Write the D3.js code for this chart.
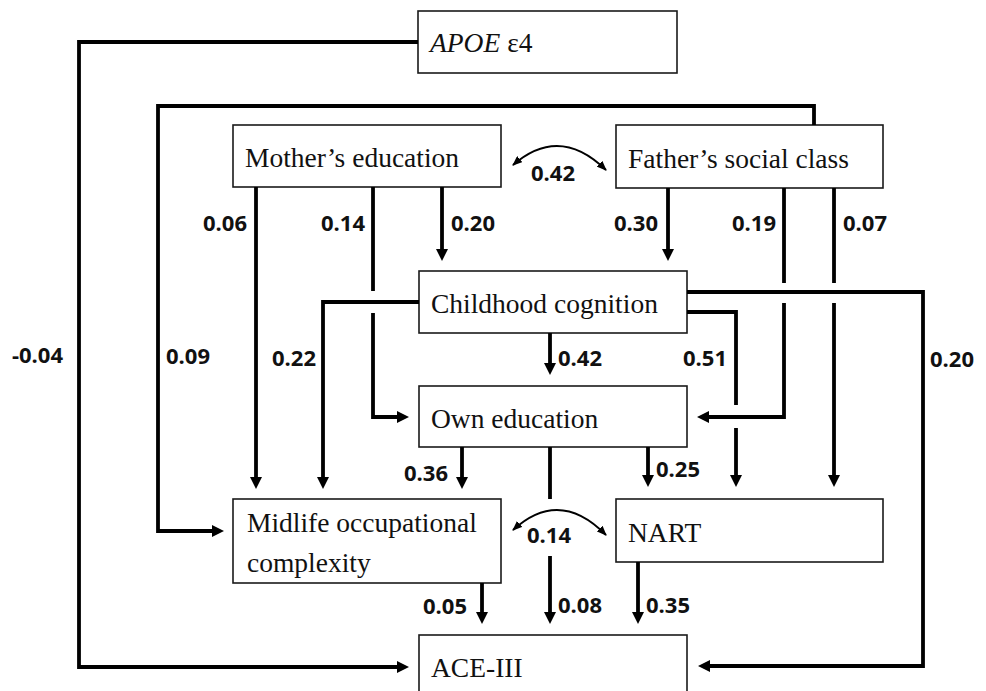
<!DOCTYPE html>
<html>
<head>
<meta charset="utf-8">
<script src="https://cdn.jsdelivr.net/npm/d3@7"></script>
<style>
  body { margin: 0; background: #fff; }
  svg { display: block; }
  .box-text { font-family: 'Liberation Serif', 'Times New Roman', serif; font-size: 27.5px; fill: #111; }
  .coef { font-family: 'Open Sans', sans-serif; font-weight: 700; font-size: 22px; fill: #111; }
</style>
</head>
<body>
<div id="chart"></div>
<script>
// variables in the path model
const nodeIds = ['apoe', 'mother', 'father', 'child', 'own', 'midlife', 'nart', 'ace']
const nodeLabels = [
  ['APOE', ' ε4'],
  ['Mother’s education'],
  ['Father’s social class'],
  ['Childhood cognition'],
  ['Own education'],
  ['Midlife occupational', 'complexity'],
  ['NART'],
  ['ACE-III']
]

// directed paths: source, target, standardised coefficient
const pathFrom = ['apoe', 'father', 'mother', 'mother', 'mother', 'father', 'father', 'father', 'child', 'child', 'child', 'child', 'own', 'own', 'own', 'midlife', 'nart']
const pathTo = ['ace', 'midlife', 'midlife', 'own', 'child', 'child', 'own', 'nart', 'midlife', 'own', 'nart', 'ace', 'midlife', 'nart', 'ace', 'ace', 'ace']
const pathCoef = ['-0.04', '0.09', '0.06', '0.14', '0.20', '0.30', '0.19', '0.07', '0.22', '0.42', '0.51', '0.20', '0.36', '0.25', '0.08', '0.05', '0.35']

// correlations (double headed)
const corrA = ['mother', 'midlife']
const corrB = ['father', 'nart']
const corrCoef = ['0.42', '0.14']

// ---- layout ----
let width = 986
let height = 691
let boxes = {
  apoe: [418, 11, 259, 62],
  mother: [233, 125, 268, 62],
  father: [616, 125, 267, 63],
  child: [419, 271, 268, 62],
  own: [419, 386, 268, 61],
  midlife: [233, 499, 268, 84],
  nart: [616, 499, 267, 63],
  ace: [419, 635, 268, 70]
}
// each route is a list of polylines (gaps at crossings); arrow on last point
let routes = [
  [[[418, 42], [79, 42], [79, 667], [409, 667]]],
  [[[814, 125], [814, 106], [158, 106], [158, 531], [224, 531]]],
  [[[256, 187], [256, 489]]],
  [[[373, 187], [373, 291]], [[373, 313], [373, 417], [409, 417]]],
  [[[442, 187], [442, 261]]],
  [[[668, 188], [668, 261]]],
  [[[784, 188], [784, 283]], [[784, 303], [784, 417], [697, 417]]],
  [[[834, 188], [834, 283]], [[834, 303], [834, 487]]],
  [[[419, 302], [323, 302], [323, 489]]],
  [[[550, 333], [550, 375]]],
  [[[687, 312], [736, 312], [736, 405]], [[736, 428], [736, 487]]],
  [[[687, 292], [923, 292], [923, 666], [698, 666]]],
  [[[462, 447], [462, 489]]],
  [[[648, 447], [648, 487]]],
  [[[550, 447], [550, 499]], [[550, 556], [550, 624]]],
  [[[482, 583], [482, 624]]],
  [[[638, 562], [638, 624]]]
]
// label anchor, x, y(centre)
let labelPos = [
  ['end', 63, 355], ['start', 166, 356], ['end', 247, 223], ['end', 365, 223],
  ['start', 451, 223], ['end', 658, 223], ['end', 776, 223], ['start', 843, 223],
  ['end', 316, 358], ['start', 558, 358], ['end', 727, 358], ['start', 930, 359],
  ['end', 448, 473], ['start', 656, 469], ['start', 558, 605], ['end', 467, 606],
  ['start', 646, 605]
]
let arcs = [
  { p0: [513, 165], p1: [606, 170], peak: 146, label: [553, 173] },
  { p0: [513, 530], p1: [606, 535], peak: 510, label: [549, 535] }
]

let svg = d3
  .select('#chart')
  .append('svg')
  .attr('width', width)
  .attr('height', height)

svg.append('rect').attr('width', width).attr('height', height).attr('fill', '#fff')

let defs = svg.append('defs')
defs
  .append('marker')
  .attr('id', 'arcHead')
  .attr('viewBox', '0 0 10 8')
  .attr('refX', 9)
  .attr('refY', 4)
  .attr('markerWidth', 10)
  .attr('markerHeight', 8)
  .attr('markerUnits', 'userSpaceOnUse')
  .attr('orient', 'auto-start-reverse')
  .append('path')
  .attr('d', 'M0,0 L10,4 L0,8 Z')
  .attr('fill', '#000')

let line = d3.line()

// boxes
let nodeG = svg
  .append('g')
  .attr('class', 'nodes')
  .selectAll('g')
  .data(nodeIds)
  .enter()
  .append('g')

nodeG
  .append('rect')
  .attr('x', d => boxes[d][0])
  .attr('y', d => boxes[d][1])
  .attr('width', d => boxes[d][2])
  .attr('height', d => boxes[d][3])
  .attr('fill', '#fff')
  .attr('stroke', '#1a1a1a')
  .attr('stroke-width', 1.6)

nodeG.each(function (d, i) {
  let b = boxes[d]
  let g = d3.select(this)
  let lbl = nodeLabels[i]
  if (d === 'apoe') {
    let t = g
      .append('text')
      .attr('class', 'box-text')
      .attr('x', b[0] + 12)
      .attr('y', b[1] + b[3] / 2 + 10)
    t.append('tspan').attr('font-style', 'italic').text(lbl[0])
    t.append('tspan').text(lbl[1])
  } else if (lbl.length === 2) {
    lbl.forEach((s, k) => {
      g.append('text')
        .attr('class', 'box-text')
        .attr('x', b[0] + 14)
        .attr('y', b[1] + 33 + k * 40)
        .text(s)
    })
  } else {
    g.append('text')
      .attr('class', 'box-text')
      .attr('x', b[0] + 12)
      .attr('y', d === 'ace' ? b[1] + 42 : b[1] + b[3] / 2 + 11)
      .text(lbl[0])
  }
})

// directed paths
let pathG = svg.append('g').attr('class', 'paths')
routes.forEach((segs, i) => {
  segs.forEach((pts, k) => {
    let p = pts.map(q => q.slice())
    if (k === segs.length - 1) {
      let a = p[p.length - 2]
      let b = p[p.length - 1]
      let dx = b[0] - a[0]
      let dy = b[1] - a[1]
      let len = Math.sqrt(dx * dx + dy * dy)
      let ux = dx / len
      let uy = dy / len
      let L = 12
      let W = 6
      p[p.length - 1] = [b[0] - ux * (L - 2), b[1] - uy * (L - 2)]
      let bx = b[0] - ux * L
      let by = b[1] - uy * L
      pathG
        .append('path')
        .attr('d', 'M' + b[0] + ',' + b[1] +
          'L' + (bx - uy * W) + ',' + (by + ux * W) +
          'L' + (bx + uy * W) + ',' + (by - ux * W) + 'Z')
        .attr('fill', '#000')
    }
    pathG
      .append('path')
      .attr('d', line(p))
      .attr('fill', 'none')
      .attr('stroke', '#000')
      .attr('stroke-width', 3.8)
      .attr('stroke-linejoin', 'miter')
  })
})

// coefficients
svg
  .append('g')
  .selectAll('text')
  .data(pathCoef)
  .enter()
  .append('text')
  .attr('class', 'coef')
  .attr('text-anchor', (d, i) => labelPos[i][0])
  .attr('x', (d, i) => labelPos[i][1])
  .attr('y', (d, i) => labelPos[i][2])
  .attr('dy', '0.36em')
  .text(d => d)

// correlations
arcs.forEach((a, i) => {
  let cx = (a.p0[0] + a.p1[0]) / 2
  let cy = (a.peak - 0.25 * (a.p0[1] + a.p1[1])) * 2
  svg
    .append('path')
    .attr('d', 'M' + a.p0[0] + ',' + a.p0[1] + 'Q' + cx + ',' + cy + ' ' + a.p1[0] + ',' + a.p1[1])
    .attr('fill', 'none')
    .attr('stroke', '#000')
    .attr('stroke-width', 2)
    .attr('marker-start', 'url(#arcHead)')
    .attr('marker-end', 'url(#arcHead)')
  svg
    .append('text')
    .attr('class', 'coef')
    .attr('text-anchor', 'middle')
    .attr('x', a.label[0])
    .attr('y', a.label[1])
    .attr('dy', '0.36em')
    .text(corrCoef[i])
})
</script>
</body>
</html>
